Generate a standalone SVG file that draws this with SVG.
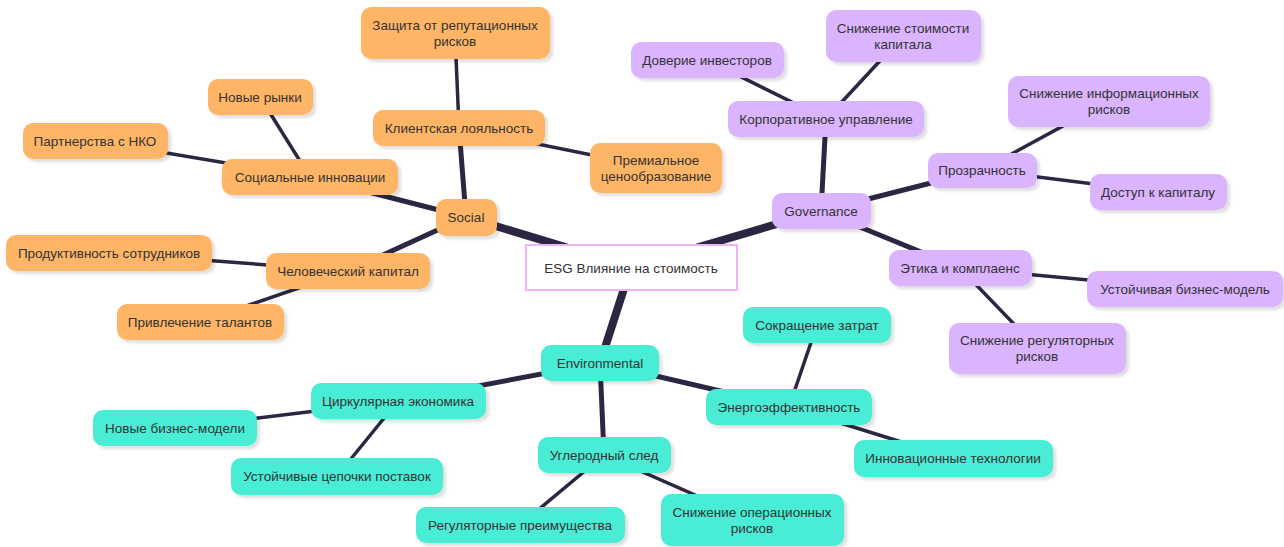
<svg xmlns="http://www.w3.org/2000/svg" width="1284" height="547" viewBox="0 0 1284 547">
<defs>
<filter id="sh" x="-20%" y="-30%" width="140%" height="170%">
<feDropShadow dx="3" dy="3" stdDeviation="1.5" flood-color="#000" flood-opacity="0.13"/>
</filter>
<style>
.bg{fill:#fff}
rect.n{rx:10;ry:10;filter:url(#sh)}
.s rect{fill:#FFB566}
.g rect{fill:#DAB4FE}
.e rect{fill:#48EDD6}
.root rect{fill:#fff;stroke:#F0B4F6;stroke-width:2}
text{font-family:"Liberation Sans",Arial,sans-serif;font-size:13.5px;fill:#333;text-anchor:middle;dominant-baseline:central}
#edges line{stroke:#2B2742;stroke-linecap:round}
.d0{stroke-width:8}
.d1{stroke-width:5}
.d2{stroke-width:3.5}
</style>
</defs>
<rect class="bg" width="1284" height="547"/>
<g id="edges">
<line class="d0" x1="631" y1="267" x2="466" y2="217"/>
<line class="d0" x1="631" y1="267" x2="821" y2="211"/>
<line class="d0" x1="631" y1="267" x2="600" y2="363"/>
<line class="d1" x1="466" y1="217" x2="459" y2="128"/>
<line class="d1" x1="466" y1="217" x2="310" y2="177"/>
<line class="d1" x1="466" y1="217" x2="348" y2="271"/>
<line class="d2" x1="459" y1="128" x2="455" y2="33"/>
<line class="d2" x1="459" y1="128" x2="656" y2="168"/>
<line class="d2" x1="310" y1="177" x2="260" y2="97"/>
<line class="d2" x1="310" y1="177" x2="95" y2="141"/>
<line class="d2" x1="348" y1="271" x2="109" y2="253"/>
<line class="d2" x1="348" y1="271" x2="200" y2="322"/>
<line class="d1" x1="821" y1="211" x2="826" y2="119"/>
<line class="d1" x1="821" y1="211" x2="982" y2="170"/>
<line class="d1" x1="821" y1="211" x2="960" y2="268"/>
<line class="d2" x1="826" y1="119" x2="707" y2="60"/>
<line class="d2" x1="826" y1="119" x2="903" y2="36"/>
<line class="d2" x1="982" y1="170" x2="1109" y2="101"/>
<line class="d2" x1="982" y1="170" x2="1158" y2="192"/>
<line class="d2" x1="960" y1="268" x2="1185" y2="289"/>
<line class="d2" x1="960" y1="268" x2="1037" y2="348"/>
<line class="d1" x1="600" y1="363" x2="398" y2="401"/>
<line class="d1" x1="600" y1="363" x2="604" y2="455"/>
<line class="d1" x1="600" y1="363" x2="789" y2="407"/>
<line class="d2" x1="398" y1="401" x2="175" y2="428"/>
<line class="d2" x1="398" y1="401" x2="337" y2="476"/>
<line class="d2" x1="604" y1="455" x2="520" y2="525"/>
<line class="d2" x1="604" y1="455" x2="752" y2="520"/>
<line class="d2" x1="789" y1="407" x2="817" y2="325"/>
<line class="d2" x1="789" y1="407" x2="953" y2="458"/>
</g>

<g id="root" class="root"><rect x="526" y="245" width="211" height="45"/><text x="631" y="268">ESG Влияние на стоимость</text></g>

<g id="social" class="s"><rect class="n" x="436" y="199" width="61" height="37"/><text x="466" y="217">Social</text></g>
<g id="client" class="s"><rect class="n" x="373" y="110" width="172" height="36"/><text x="459" y="128">Клиентская лояльность</text></g>
<g id="reput" class="s"><rect class="n" x="361" y="7" width="189" height="52"/><text x="455" y="33"><tspan x="455" dy="-8">Защита от репутационных</tspan><tspan x="455" dy="16">рисков</tspan></text></g>
<g id="premium" class="s"><rect class="n" x="590" y="143" width="132" height="50"/><text x="656" y="168"><tspan x="656" dy="-8">Премиальное</tspan><tspan x="656" dy="16">ценообразование</tspan></text></g>
<g id="socinnov" class="s"><rect class="n" x="222" y="159" width="176" height="36"/><text x="310" y="177">Социальные инновации</text></g>
<g id="markets" class="s"><rect class="n" x="208" y="79" width="105" height="36"/><text x="260" y="97">Новые рынки</text></g>
<g id="ngo" class="s"><rect class="n" x="23" y="123" width="145" height="36"/><text x="95" y="141">Партнерства с НКО</text></g>
<g id="human" class="s"><rect class="n" x="266" y="253" width="164" height="36"/><text x="348" y="271">Человеческий капитал</text></g>
<g id="product" class="s"><rect class="n" x="6" y="235" width="206" height="36"/><text x="109" y="253">Продуктивность сотрудников</text></g>
<g id="talent" class="s"><rect class="n" x="117" y="304" width="167" height="36"/><text x="200" y="322">Привлечение талантов</text></g>

<g id="gov" class="g"><rect class="n" x="772" y="193" width="99" height="36"/><text x="821" y="211">Governance</text></g>
<g id="corp" class="g"><rect class="n" x="728" y="101" width="196" height="36"/><text x="826" y="119">Корпоративное управление</text></g>
<g id="trust" class="g"><rect class="n" x="631" y="42" width="153" height="36"/><text x="707" y="60">Доверие инвесторов</text></g>
<g id="costcap" class="g"><rect class="n" x="826" y="10" width="155" height="52"/><text x="903" y="36"><tspan x="903" dy="-8">Снижение стоимости</tspan><tspan x="903" dy="16">капитала</tspan></text></g>
<g id="transp" class="g"><rect class="n" x="928" y="153" width="109" height="35"/><text x="982" y="170">Прозрачность</text></g>
<g id="inforisk" class="g"><rect class="n" x="1008" y="76" width="202" height="51"/><text x="1109" y="101"><tspan x="1109" dy="-8">Снижение информационных</tspan><tspan x="1109" dy="16">рисков</tspan></text></g>
<g id="access" class="g"><rect class="n" x="1090" y="174" width="137" height="36"/><text x="1158" y="192">Доступ к капиталу</text></g>
<g id="ethics" class="g"><rect class="n" x="889" y="250" width="143" height="36"/><text x="960" y="268">Этика и комплаенс</text></g>
<g id="sustbm" class="g"><rect class="n" x="1087" y="271" width="196" height="36"/><text x="1185" y="289">Устойчивая бизнес-модель</text></g>
<g id="regrisk" class="g"><rect class="n" x="949" y="323" width="177" height="51"/><text x="1037" y="348"><tspan x="1037" dy="-8">Снижение регуляторных</tspan><tspan x="1037" dy="16">рисков</tspan></text></g>

<g id="env" class="e"><rect class="n" x="541" y="345" width="118" height="36"/><text x="600" y="363">Environmental</text></g>
<g id="circ" class="e"><rect class="n" x="311" y="383" width="175" height="36"/><text x="398" y="401">Циркулярная экономика</text></g>
<g id="newbm" class="e"><rect class="n" x="93" y="410" width="164" height="36"/><text x="175" y="428">Новые бизнес-модели</text></g>
<g id="supply" class="e"><rect class="n" x="231" y="458" width="212" height="37"/><text x="337" y="476">Устойчивые цепочки поставок</text></g>
<g id="carbon" class="e"><rect class="n" x="538" y="437" width="133" height="36"/><text x="604" y="455">Углеродный след</text></g>
<g id="regadv" class="e"><rect class="n" x="416" y="507" width="209" height="36"/><text x="520" y="525">Регуляторные преимущества</text></g>
<g id="oprisk" class="e"><rect class="n" x="661" y="494" width="183" height="52"/><text x="752" y="520"><tspan x="752" dy="-8">Снижение операционных</tspan><tspan x="752" dy="16">рисков</tspan></text></g>
<g id="energy" class="e"><rect class="n" x="706" y="389" width="166" height="36"/><text x="789" y="407">Энергоэффективность</text></g>
<g id="costcut" class="e"><rect class="n" x="743" y="307" width="148" height="36"/><text x="817" y="325">Сокращение затрат</text></g>
<g id="innov" class="e"><rect class="n" x="854" y="440" width="199" height="37"/><text x="953" y="458">Инновационные технологии</text></g>
</svg>
